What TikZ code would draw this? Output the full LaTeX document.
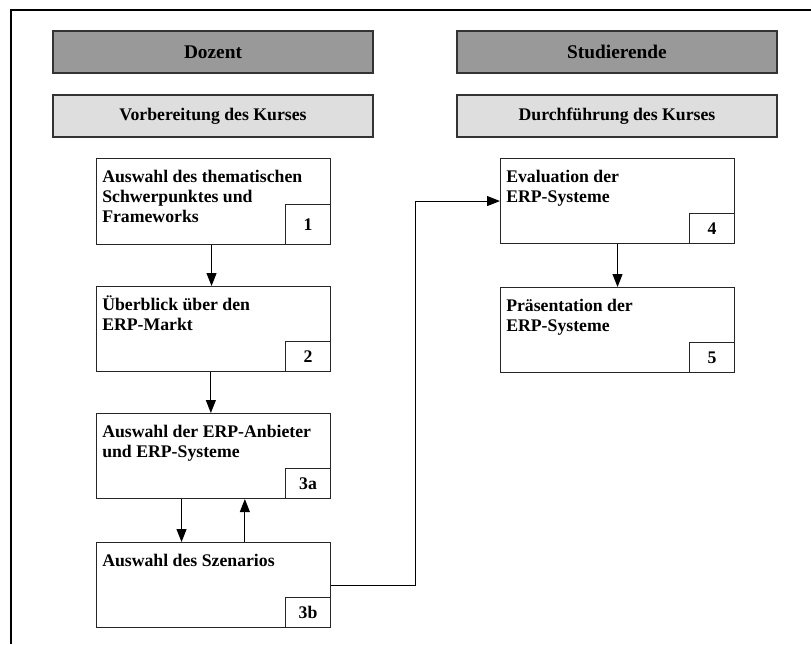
\documentclass[tikz,border=0pt]{standalone}
\usepackage{fontspec}
\setmainfont{Liberation Serif}
\usetikzlibrary{arrows.meta}

\begin{document}
\begin{tikzpicture}[x=0.75pt, y=-0.75pt,
  head/.style={draw=black!80, line width=0.9pt, fill=black!40, minimum width=240pt, minimum height=31.5pt, font=\bfseries\fontsize{14.5}{17}\selectfont},
  phase/.style={draw=black!80, line width=0.9pt, fill=black!13, minimum width=240pt, minimum height=31.5pt, font=\bfseries\fontsize{13.3}{15}\selectfont},
  stepbox/.style={draw=black!85, line width=0.8pt, anchor=north west, minimum width=175.5pt, minimum height=63.75pt, inner sep=0},
  steptext/.style={anchor=north west, align=left, inner sep=0, font=\bfseries\fontsize{13.3}{15}\selectfont},
  numbox/.style={draw=black!85, line width=0.8pt, anchor=south east, minimum width=33.75pt, minimum height=22.5pt, inner sep=0, font=\bfseries\fontsize{13.3}{15}\selectfont},
  arr/.style={line width=0.8pt, -{Triangle[length=9.75pt, width=7.5pt]}}]

\useasboundingbox (0,0) rectangle (811,644);

% frame
\draw[line width=2.2pt] (11,644) |- (811,10);

% headers
\node[head] (doz) at (213,52) {Dozent};
\node[phase] (vor) at (213,116) {Vorbereitung des Kurses};
\node[head] (stu) at (617,52) {Studierende};
\node[phase] (dur) at (617,116) {Durchführung des Kurses};

% steps
\node[stepbox, minimum height=64.5pt] (b1) at (96,158) {};
\node[stepbox] (b2) at (96,286) {};
\node[stepbox] (b3a) at (96,413) {};
\node[stepbox] (b3b) at (96,542) {};
\node[stepbox] (b4) at (500,158) {};
\node[stepbox] (b5) at (500,287) {};

\node[steptext] (t1) at ([xshift=4.5pt, yshift=-6pt]b1.north west) {\rule{0pt}{12pt}Auswahl des thematischen\\Schwerpunktes und\\Frameworks};
\node[steptext] (t2) at ([xshift=4.5pt, yshift=-6pt]b2.north west) {\rule{0pt}{12pt}Überblick über den\\ERP-Markt};
\node[steptext] (t3a) at ([xshift=4.5pt, yshift=-6pt]b3a.north west) {\rule{0pt}{12pt}Auswahl der ERP-Anbieter\\und ERP-Systeme};
\node[steptext] (t3b) at ([xshift=4.5pt, yshift=-6pt]b3b.north west) {\rule{0pt}{12pt}Auswahl des Szenarios};
\node[steptext] (t4) at ([xshift=4.5pt, yshift=-6pt]b4.north west) {\rule{0pt}{12pt}Evaluation der\\ERP-Systeme};
\node[steptext] (t5) at ([xshift=4.5pt, yshift=-6pt]b5.north west) {\rule{0pt}{12pt}Präsentation der\\ERP-Systeme};

\node[numbox, minimum height=30pt] (n1) at (b1.south east) {1};
\node[numbox] (n2) at (b2.south east) {2};
\node[numbox] (n3a) at (b3a.south east) {3a};
\node[numbox] (n3b) at (b3b.south east) {3b};
\node[numbox] (n4) at (b4.south east) {4};
\node[numbox] (n5) at (b5.south east) {5};

% connectors
\draw[arr] ([xshift=-1.5pt]b1.south) -- ([xshift=-1.5pt]b2.north);
\draw[arr] ([xshift=-2pt]b2.south) -- ([xshift=-2pt]b3a.north);
\draw[arr] ([xshift=-24pt]b3a.south) -- ([xshift=-24pt]b3b.north);
\draw[arr] ([xshift=23.5pt]b3b.north) -- ([xshift=23.5pt]b3a.south);
\draw[arr] (b4) -- (b5);
\draw[arr] (b3b.east) -- ++(84,0) |- (b4.west);

\end{tikzpicture}
\end{document}
